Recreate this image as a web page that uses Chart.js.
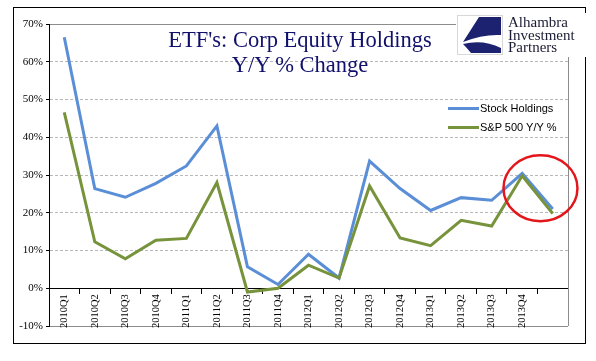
<!DOCTYPE html>
<html>
<head>
<meta charset="utf-8">
<script src="https://cdn.jsdelivr.net/npm/chart.js@4/dist/chart.umd.min.js"></script>
<style>
    body { margin: 0; background: #fff; }
    #wrap { position: relative; width: 596px; height: 361px; overflow: hidden; }
    #frame { position: absolute; left: 13px; top: 7px; width: 571px; height: 335px; border: 1px solid #000; }
    #myChart { position: absolute; left: 0; top: 0; }
    #title { position: absolute; left: 150px; top: 27px; width: 300px; text-align: center;
        font: 22.5px/25px "Liberation Serif", serif; color: #10106b; }
    #logo { position: absolute; left: 456px; top: 13px; width: 134px; height: 44px; background: #fff; }
    #logo svg { position: absolute; left: 1px; top: 2px; }
    #logo .txt { position: absolute; left: 52px; top: 3px; font: 15px/12.5px "Liberation Serif", serif; color: #1b1b33; }
    .leg { position: absolute; left: 448px; font: 11px "Liberation Sans", sans-serif; color: #000; height: 14px; line-height: 14px; }
    .leg span { display: inline-block; width: 31px; height: 3px; vertical-align: middle; margin-right: 1px; position: relative; top: -1px; }
</style>
</head>
<body>
<div id="wrap">
    <div id="frame"></div>
    <canvas id="myChart" width="596" height="361"></canvas>
    <div id="title">ETF's: Corp Equity Holdings<br>Y/Y % Change</div>
    <div id="logo">
        <svg width="46" height="40" viewBox="0 0 46 40">
            <rect x="0.5" y="0.5" width="45" height="39" fill="#fff" stroke="#d8d8d8"/>
            <path d="M22,2 L44,2 L44,20 Q26,19 6,27 Z" fill="#1c2270"/>
            <path d="M6,29 Q26,24 44,33 L44,38 L14,38 Q10,33 6,29 Z" fill="#1c2270"/>
        </svg>
        <div class="txt">Alhambra<br>Investment<br>Partners</div>
    </div>
    <div class="leg" style="top:101px"><span style="background:#5a8ed6"></span>Stock Holdings</div>
    <div class="leg" style="top:120px"><span style="background:#77933c"></span>S&amp;P 500 Y/Y %</div>
</div>
<script>
var quarters = ['2010Q1', '2010Q2', '2010Q3', '2010Q4', '2011Q1', '2011Q2', '2011Q3', '2011Q4',
    '2012Q1', '2012Q2', '2012Q3', '2012Q4', '2013Q1', '2013Q2', '2013Q3', '2013Q4', ''];
var stockHoldings = [66.5, 26.4, 24.1, 27.8, 32.4, 43.0, 5.7, 1.0, 9.0, 2.7, 33.7, 26.4, 20.6, 24.0, 23.3, 30.4, 21.0];
var sp500 = [46.6, 12.3, 7.8, 12.7, 13.2, 28.0, -1.0, 0.0, 6.1, 2.7, 27.1, 13.3, 11.3, 18.0, 16.5, 29.8, 19.8];
var yTicks = [-10, 0, 10, 20, 30, 40, 50, 60, 70];

// right side of the plot box (starts under the logo) + the red circle on the last two quarters
var plotFrame = {
    id: 'plotFrame',
    afterDraw: function(chart) {
        var ctx = chart.ctx, a = chart.chartArea;
        var xs = chart.scales.x, ys = chart.scales.y;
        ctx.save();
        ctx.strokeStyle = '#8c8c8c';
        ctx.lineWidth = 1;
        ctx.beginPath();
        ctx.moveTo(Math.round(a.right) + 0.5, 57);
        ctx.lineTo(Math.round(a.right) + 0.5, a.bottom);
        ctx.stroke();

        var cx = (xs.getPixelForValue(15) + xs.getPixelForValue(16)) / 2 + 3;
        var cy = ys.getPixelForValue(26.5);
        ctx.strokeStyle = '#e3161b';
        ctx.lineWidth = 2.5;
        ctx.beginPath();
        ctx.ellipse(cx, cy, 37, 33, 0, 0, Math.PI * 2);
        ctx.stroke();
        ctx.restore();
    }
};

var ctx = document.getElementById('myChart').getContext('2d');
var myChart = new Chart(ctx, {
    type: 'line',
    data: {
        labels: quarters,
        datasets: [{
            label: 'Stock Holdings',
            data: stockHoldings,
            borderColor: '#5a8ed6',
            borderWidth: 3,
            pointRadius: 0,
            order: 1
        }, {
            label: 'S&P 500 Y/Y %',
            data: sp500,
            borderColor: '#77933c',
            borderWidth: 3,
            pointRadius: 0,
            order: 0
        }]
    },
    options: {
        responsive: false,
        animation: false,
        devicePixelRatio: 1,
        layout: { padding: { left: 0, right: 28, top: 24, bottom: 35 } },
        plugins: { legend: { display: false }, tooltip: { enabled: false } },
        scales: {
            x: {
                type: 'category',
                offset: true,
                position: { y: 0 },
                afterFit: function(s) { s.height = 0; },
                grid: { offset: true, drawOnChartArea: false, tickLength: 5, color: '#000' },
                border: { color: '#000', width: 1 },
                ticks: {
                    autoSkip: false, minRotation: 90, maxRotation: 90, padding: 1,
                    color: '#000', font: { family: 'Liberation Serif', size: 10.5 }
                }
            },
            y: {
                min: -10,
                max: 70,
                afterFit: function(s) { s.width = 49; },
                afterBuildTicks: function(s) {
                    s.ticks = yTicks.map(function(v) { return { value: v }; });
                },
                grid: {
                    tickLength: 3,
                    tickColor: '#000',
                    color: function(c) {
                        var v = c.tick ? c.tick.value : 0;
                        return (v === -10 || v === 70) ? '#8c8c8c' : '#b8b8b8';
                    }
                },
                border: {
                    color: '#000',
                    dash: function(c) {
                        var v = c.tick ? c.tick.value : 0;
                        return (v === -10 || v === 70) ? [] : [3, 2];
                    }
                },
                ticks: {
                    padding: 3,
                    color: '#000',
                    font: { family: 'Liberation Serif', size: 11 },
                    callback: function(v) { return v + '%'; }
                }
            }
        }
    },
    plugins: [plotFrame]
});
</script>
</body>
</html>
